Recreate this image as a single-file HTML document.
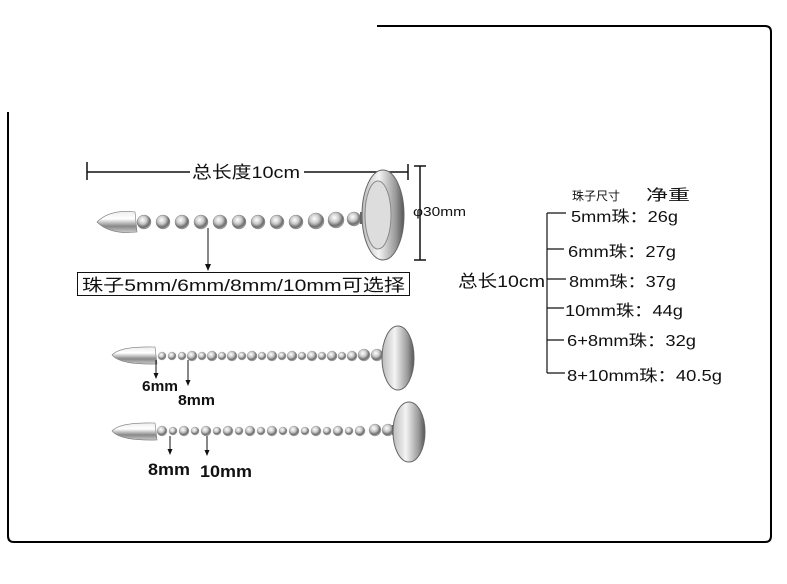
<!DOCTYPE html>
<html><head><meta charset="utf-8"><style>
html,body{margin:0;padding:0;background:#fff;}
svg text{font-family:"Liberation Sans","Noto Sans CJK SC",sans-serif;fill:#111;}
</style></head><body>
<svg width="787" height="579" viewBox="0 0 787 579" xmlns="http://www.w3.org/2000/svg">
<defs>
<radialGradient id="bead" cx="40%" cy="35%" r="65%">
<stop offset="0" stop-color="#fff"/><stop offset="0.45" stop-color="#c8c8c8"/><stop offset="0.8" stop-color="#6a6a6a"/><stop offset="1" stop-color="#aaa"/></radialGradient>
<linearGradient id="tip" x1="0" y1="0" x2="0" y2="1">
<stop offset="0" stop-color="#eee"/><stop offset="0.35" stop-color="#fff"/><stop offset="0.7" stop-color="#888"/><stop offset="1" stop-color="#ccc"/></linearGradient>
<linearGradient id="cap" x1="0" y1="0" x2="1" y2="0">
<stop offset="0" stop-color="#bbb"/><stop offset="0.4" stop-color="#f4f4f4"/><stop offset="0.8" stop-color="#999"/><stop offset="1" stop-color="#555"/></linearGradient>
</defs>
<path d="M377 26 H765 Q771 26 771 32 V536 Q771 542 765 542 H14 Q8 542 8 536 V112" fill="none" stroke="#000" stroke-width="2"/>

<line x1="87" y1="172" x2="190" y2="172" stroke="#111" stroke-width="1.5"/>
<line x1="304" y1="172" x2="408" y2="172" stroke="#111" stroke-width="1.5"/>
<line x1="87" y1="162" x2="87" y2="180" stroke="#111" stroke-width="1.5"/>
<line x1="408" y1="164" x2="408" y2="180" stroke="#111" stroke-width="1.5"/>
<text x="192" y="178" font-size="17" textLength="108" lengthAdjust="spacingAndGlyphs">总长度10cm</text>
<line x1="420" y1="166" x2="420" y2="260" stroke="#111" stroke-width="1.5"/>
<line x1="414" y1="166" x2="426" y2="166" stroke="#111" stroke-width="1.5"/>
<line x1="414" y1="260" x2="426" y2="260" stroke="#111" stroke-width="1.5"/>
<text x="413" y="216" font-size="13" textLength="53" lengthAdjust="spacingAndGlyphs">φ30mm</text>
<path d="M97 222 Q110 209 135 212 L137 232 Q110 235 97 222Z" fill="url(#tip)" stroke="#777" stroke-width="0.6"/>
<g fill="url(#bead)" stroke="#888" stroke-width="0.5">
<circle cx="144" cy="222" r="7"/><circle cx="163" cy="222" r="7"/><circle cx="182" cy="222" r="7"/><circle cx="201" cy="222" r="7"/><circle cx="220" cy="222" r="7"/><circle cx="239" cy="222" r="7"/><circle cx="258" cy="222" r="7"/><circle cx="277" cy="222" r="7"/><circle cx="296" cy="222" r="7"/><circle cx="316" cy="221" r="8"/><circle cx="336" cy="220" r="8"/><circle cx="354" cy="219" r="7"/>
</g>
<rect x="360" y="212" width="22" height="12" fill="#666"/>
<ellipse cx="383" cy="215" rx="21" ry="45" fill="url(#cap)" stroke="#666" stroke-width="1"/>
<ellipse cx="378" cy="215" rx="13" ry="34" fill="#ddd" stroke="#888"/>
<line x1="208" y1="228" x2="208" y2="266" stroke="#111"/>
<path d="M205 264 L211 264 L208 271Z" fill="#111"/>
<rect x="77.5" y="272.5" width="332" height="23" fill="#fff" stroke="#111"/>
<text x="82" y="291" font-size="17" textLength="323" lengthAdjust="spacingAndGlyphs">珠子5mm/6mm/8mm/10mm可选择</text>

<path d="M112 355 Q120 346 155 347 L157 364 Q120 365 112 355Z" fill="url(#tip)" stroke="#777" stroke-width="0.6"/>
<g fill="url(#bead)" stroke="#999" stroke-width="0.4">
<circle cx="162" cy="356" r="4"/><circle cx="172" cy="356" r="4"/><circle cx="182" cy="356" r="4"/><circle cx="192" cy="356" r="5"/><circle cx="202" cy="356" r="4"/><circle cx="212" cy="356" r="5"/><circle cx="222" cy="356" r="4"/><circle cx="232" cy="356" r="5"/><circle cx="242" cy="356" r="4"/><circle cx="252" cy="356" r="5"/><circle cx="262" cy="356" r="4"/><circle cx="272" cy="356" r="5"/><circle cx="282" cy="356" r="4"/><circle cx="292" cy="356" r="5"/><circle cx="302" cy="356" r="4"/><circle cx="312" cy="356" r="5"/><circle cx="322" cy="356" r="4"/><circle cx="332" cy="356" r="5"/><circle cx="342" cy="356" r="4"/><circle cx="352" cy="356" r="5"/><circle cx="364" cy="355" r="6"/><circle cx="377" cy="355" r="6"/>
</g>
<rect x="382" y="350" width="24" height="10" fill="#666"/>
<ellipse cx="398" cy="358" rx="16" ry="32" fill="url(#cap)" stroke="#666"/>
<line x1="156" y1="360" x2="156" y2="374" stroke="#111"/><path d="M153.5 373 L158.5 373 L156 379Z" fill="#111"/>
<line x1="188" y1="360" x2="188" y2="381" stroke="#111"/><path d="M185.5 380 L190.5 380 L188 386Z" fill="#111"/>
<text x="142" y="391" font-size="15" font-weight="bold" textLength="36" lengthAdjust="spacingAndGlyphs">6mm</text>
<text x="178" y="405" font-size="15" font-weight="bold" textLength="37" lengthAdjust="spacingAndGlyphs">8mm</text>

<path d="M112 431 Q120 422 155 423 L157 440 Q120 441 112 431Z" fill="url(#tip)" stroke="#777" stroke-width="0.6"/>
<g fill="url(#bead)" stroke="#999" stroke-width="0.4">
<circle cx="162" cy="431" r="5"/><circle cx="173" cy="431" r="4"/><circle cx="184" cy="431" r="5"/><circle cx="195" cy="431" r="4"/><circle cx="206" cy="431" r="5"/><circle cx="217" cy="431" r="4"/><circle cx="228" cy="431" r="5"/><circle cx="239" cy="431" r="4"/><circle cx="250" cy="431" r="5"/><circle cx="261" cy="431" r="4"/><circle cx="272" cy="431" r="5"/><circle cx="283" cy="431" r="4"/><circle cx="294" cy="431" r="5"/><circle cx="305" cy="431" r="4"/><circle cx="316" cy="431" r="5"/><circle cx="327" cy="431" r="4"/><circle cx="338" cy="431" r="5"/><circle cx="349" cy="431" r="4"/><circle cx="360" cy="431" r="5"/><circle cx="375" cy="430" r="6"/><circle cx="388" cy="430" r="6"/>
</g>
<rect x="392" y="425" width="22" height="10" fill="#666"/>
<ellipse cx="409" cy="432" rx="16" ry="30" fill="url(#cap)" stroke="#666"/>
<line x1="170" y1="436" x2="170" y2="450" stroke="#111"/><path d="M167.5 449 L172.5 449 L170 455Z" fill="#111"/>
<line x1="207" y1="436" x2="207" y2="451" stroke="#111"/><path d="M204.5 450 L209.5 450 L207 456Z" fill="#111"/>
<text x="148" y="475" font-size="17" font-weight="bold" textLength="42" lengthAdjust="spacingAndGlyphs">8mm</text>
<text x="200" y="477" font-size="17" font-weight="bold" textLength="52" lengthAdjust="spacingAndGlyphs">10mm</text>

<text x="572" y="200" font-size="12">珠子尺寸</text>
<text x="646" y="200" font-size="15" textLength="44" lengthAdjust="spacingAndGlyphs">净重</text>
<line x1="547" y1="213" x2="547" y2="373" stroke="#111" stroke-width="1.2"/>
<g stroke="#111" stroke-width="1.2">
<line x1="547" y1="213" x2="566" y2="213"/><line x1="547" y1="249" x2="564" y2="249"/><line x1="547" y1="279" x2="566" y2="279"/><line x1="547" y1="308" x2="564" y2="308"/><line x1="547" y1="340" x2="564" y2="340"/><line x1="547" y1="373" x2="565" y2="373"/>
</g>
<text x="458" y="287" font-size="17" textLength="87" lengthAdjust="spacingAndGlyphs">总长10cm</text>
<g font-size="16">
<text x="571" y="222" textLength="107" lengthAdjust="spacingAndGlyphs">5mm珠：26g</text>
<text x="568" y="257" textLength="108" lengthAdjust="spacingAndGlyphs">6mm珠：27g</text>
<text x="569" y="287" textLength="107" lengthAdjust="spacingAndGlyphs">8mm珠：37g</text>
<text x="565" y="316" textLength="118" lengthAdjust="spacingAndGlyphs">10mm珠：44g</text>
<text x="567" y="346" textLength="129" lengthAdjust="spacingAndGlyphs">6+8mm珠：32g</text>
<text x="567" y="381" textLength="155" lengthAdjust="spacingAndGlyphs">8+10mm珠：40.5g</text>
</g>
</svg>
</body></html>
